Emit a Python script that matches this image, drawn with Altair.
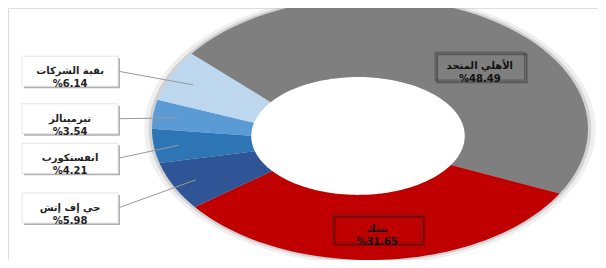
import altair as alt
import pandas as pd

# ---- data ----
names = ["الأهلي المتحد", "بيتك", "جي إف إتش", "انفستكورب", "تيرمينالز", "بقية الشركات"]
shares = [48.49, 31.65, 5.98, 4.21, 3.54, 6.14]
order = [0, 1, 2, 3, 4, 5]

# ---- styling ----
colors = ["#7f7f7f", "#c00000", "#2f5597", "#2e75b6", "#5b9bd5", "#bdd7ee"]
FONT = "DejaVu Sans"

df = pd.DataFrame({"name": names, "value": shares, "order": order})

# ring geometry in scale units (x and y scales differ -> elliptical ring)
START = -55.0  # degrees, clockwise from 12 o'clock
OX, OY, ORX, ORY = 0.0, 0.0, 1.0, 1.0        # outer ellipse
IX, IY, IRX, IRY = -0.055, -0.053, 0.49, 0.45  # inner ellipse (hole)
N = 60

xscale = alt.Scale(domain=[-1.6606, 1.0459], nice=False, zero=False)
yscale = alt.Scale(domain=[-1.0, 0.9237], nice=False, zero=False)
cscale = alt.Scale(domain=names, range=colors)

base = (
    alt.Chart(df)
    .transform_window(cum="sum(value)", sort=[alt.SortField("order")], frame=[None, 0])
    .transform_joinaggregate(total="sum(value)")
    .transform_calculate(
        a0=f"({START})*PI/180 + 2*PI*(datum.cum - datum.value)/datum.total",
        a1=f"({START})*PI/180 + 2*PI*datum.cum/datum.total",
    )
    .transform_calculate(mid="(datum.a0 + datum.a1)/2")
    .transform_calculate(
        label="datum.name + '\\n' + '%' + format(datum.value, '.2f')",
        inside="datum.value > 20",
    )
)


def ring_layer(scale_out, **mark_kw):
    return (
        base.transform_calculate(idx=f"sequence(0, {2 * N + 2})")
        .transform_flatten(["idx"])
        .transform_calculate(
            t=f"datum.idx <= {N} ? datum.idx/{N} : ({2 * N + 1} - datum.idx)/{N}"
        )
        .transform_calculate(ang="datum.a0 + (datum.a1 - datum.a0)*datum.t")
        .transform_calculate(
            px=f"datum.idx <= {N} ? {OX} + {ORX * scale_out}*sin(datum.ang) : {IX} + {IRX}*sin(datum.ang)",
            py=f"datum.idx <= {N} ? {OY} + {ORY * scale_out}*cos(datum.ang) : {IY} + {IRY}*cos(datum.ang)",
        )
        .mark_line(filled=True, interpolate="linear", strokeWidth=0, **mark_kw)
    )


# soft halo around the ring
halo_enc = dict(
    x=alt.X("px:Q", scale=xscale, axis=None),
    y=alt.Y("py:Q", scale=yscale, axis=None),
    order=alt.Order("idx:Q"),
    detail="name:N",
)
halo1 = ring_layer(1.035, color="#d0d0d0", opacity=0.35).encode(**halo_enc)
halo2 = ring_layer(1.015, color="#b0b0b0", opacity=0.45).encode(**halo_enc)

ring = ring_layer(1.0).encode(
    x=alt.X("px:Q", scale=xscale, axis=None),
    y=alt.Y("py:Q", scale=yscale, axis=None),
    order=alt.Order("idx:Q"),
    color=alt.Color("name:N", scale=cscale, legend=None),
    detail="name:N",
)

# ---- label positions ----
lab = base.transform_calculate(
    ix=f"datum.inside ? 0.5*({OX} + {ORX}*sin(datum.mid)) + 0.5*({IX} + {IRX}*sin(datum.mid)) + 0.25*sin(datum.mid) : -1.376",
    iy=f"datum.inside ? 0.5*({OY} + {ORY}*cos(datum.mid)) + 0.5*({IY} + {IRY}*cos(datum.mid)) - 0.2*sin(datum.mid) : -0.063 + 1.243*cos(datum.mid)",
)

outside = lab.transform_filter("!datum.inside")
inside_l = lab.transform_filter("datum.inside")

BOX = "M-1,-0.3125L1,-0.3125L1,0.3125L-1,0.3125Z"
pos = dict(
    x=alt.X("ix:Q", scale=xscale, axis=None),
    y=alt.Y("iy:Q", scale=yscale, axis=None),
)

# leader lines
leaders = (
    outside.transform_calculate(
        lx2=f"0.75*({OX} + {ORX}*sin(datum.mid)) + 0.25*({IX} + {IRX}*sin(datum.mid))",
        ly2=f"0.75*({OY} + {ORY}*cos(datum.mid)) + 0.25*({IY} + {IRY}*cos(datum.mid))",
        lx1="-1.156",
    )
    .mark_rule(color="#9a9a9a", strokeWidth=1)
    .encode(
        x=alt.X("lx1:Q", scale=xscale, axis=None),
        y=alt.Y("iy:Q", scale=yscale, axis=None),
        x2="lx2:Q",
        y2="ly2:Q",
    )
)

box_shadow = outside.mark_point(
    shape=BOX, size=9216, filled=True, fill="#9c9c9c", opacity=0.8,
    strokeWidth=0, xOffset=2, yOffset=2,
).encode(**pos)
box = outside.mark_point(
    shape=BOX, size=9216, filled=True, fill="white", opacity=1,
    stroke="#e6e6e6", strokeWidth=1,
).encode(**pos)

in_shadow = inside_l.mark_point(
    shape=BOX, size=8000, filled=False, fillOpacity=0, stroke="#000000",
    strokeOpacity=0.3, strokeWidth=2, xOffset=2, yOffset=2, opacity=1,
).encode(**pos)
in_box = inside_l.mark_point(
    shape=BOX, size=8000, filled=False, fillOpacity=0, stroke="#333333",
    strokeOpacity=0.55, strokeWidth=1, opacity=1,
).encode(**pos)

out_text = outside.mark_text(
    font=FONT, fontSize=10, fontWeight="bold", color="#1f1f1f",
    lineBreak="\n", lineHeight=13, align="center", baseline="middle",
).encode(text="label:N", **pos)
in_text = inside_l.mark_text(
    font=FONT, fontSize=10, fontWeight="bold", color="#111111",
    lineBreak="\n", lineHeight=13, align="center", baseline="middle",
).encode(text="label:N", **pos)

chart = (
    alt.layer(halo1, halo2, ring, leaders, box_shadow, box, in_shadow, in_box, out_text, in_text)
    .properties(width=590, height=252, padding=0, autosize=alt.AutoSizeParams(type="none"))
    .configure_view(stroke=None)
    .configure(background="white")
)

chart.save("out.html", embed_options={"renderer": "svg", "actions": False})
